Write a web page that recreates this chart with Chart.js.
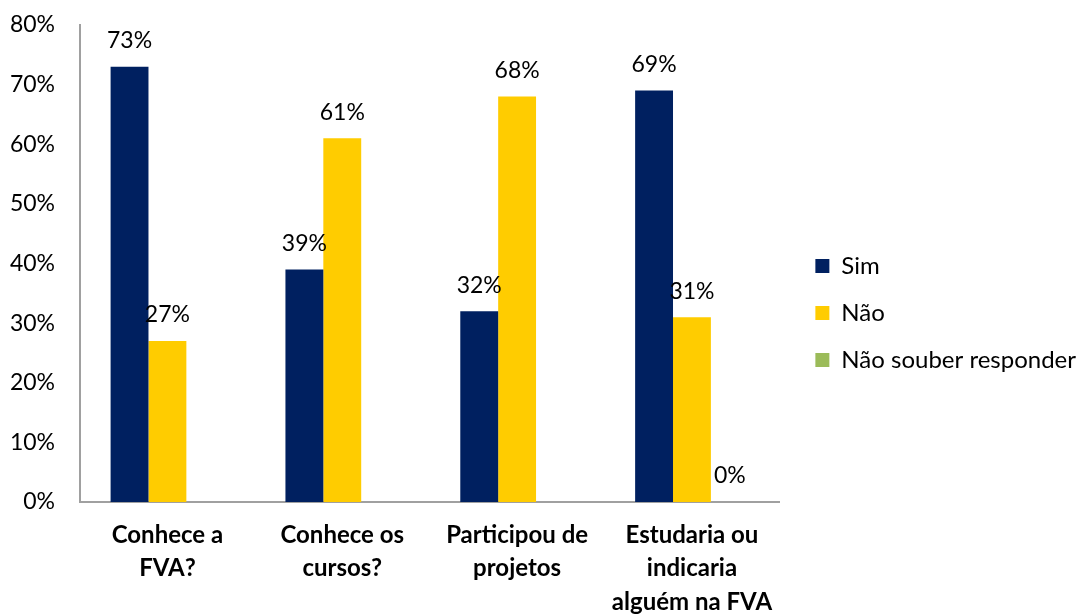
<!DOCTYPE html>
<html>
    <head>
        <meta charset="utf-8">
        <title>Conhecimento da FVA</title>
        <script src="https://cdn.jsdelivr.net/npm/chart.js@4.4.0/dist/chart.umd.min.js"></script>
        <style>
            body { margin: 0; background: #fff; }
            #wrap { width: 1086px; height: 614px; }
        </style>
    </head>
    <body>
        <div id="wrap"><canvas id="chart" width="1086" height="614"></canvas></div>
        <script>
// categories (multi-line labels) and the three series, in percent
const categories = [
    ['Conhece a', 'FVA?'],
    ['Conhece os', 'cursos?'],
    ['Participou de', 'projetos'],
    ['Estudaria ou', 'indicaria', 'alguém na FVA']
];
const sim = [73, 39, 32, 69];
const nao = [27, 61, 68, 31];
const naoSouber = [null, null, null, 0];
const yTicks = [0, 10, 20, 30, 40, 50, 60, 70, 80];

const font = 'Lato, "Liberation Sans", sans-serif';

// writes the value over each bar, like the excel data labels
const valueLabels = {
    id: 'valueLabels',
    afterDatasetsDraw(chart) {
        const ctx = chart.ctx;
        ctx.save();
        ctx.font = '23px ' + font;
        ctx.fillStyle = '#000';
        ctx.textAlign = 'center';
        ctx.textBaseline = 'middle';
        chart.data.datasets.forEach((ds, i) => {
            const meta = chart.getDatasetMeta(i);
            meta.data.forEach((bar, j) => {
                const v = ds.data[j];
                if (v === null || v === undefined) return;
                ctx.fillText(v + '%', bar.x, bar.y - 26);
            });
        });
        ctx.restore();
    }
};

const ctx = document.getElementById('chart').getContext('2d');
new Chart(ctx, {
    type: 'bar',
    data: {
        labels: categories,
        datasets: [
            { label: 'Sim', data: sim, backgroundColor: '#002060' },
            { label: 'Não', data: nao, backgroundColor: '#FFCC00' },
            { label: 'Não souber responder', data: naoSouber, backgroundColor: '#9BBB59' }
        ]
    },
    options: {
        responsive: false,
        animation: false,
        layout: { padding: { top: 0, right: 0, left: 0, bottom: 0 } },
        datasets: { bar: { categoryPercentage: 0.65, barPercentage: 1.0 } },
        plugins: {
            tooltip: { enabled: false },
            legend: {
                position: 'right',
                maxWidth: 400,
                // blank title only pushes the items a few px down
                title: { display: true, text: ' ', padding: 0, font: { size: 10 } },
                labels: {
                    font: { family: font, size: 24 },
                    color: '#000',
                    boxWidth: 14,
                    boxHeight: 14,
                    padding: 23
                }
            }
        },
        scales: {
            x: {
                grid: { display: false, drawTicks: false },
                border: { color: '#A0A0A0', width: 2 },
                ticks: {
                    color: '#000',
                    font: { family: font, size: 24, weight: 'bold', lineHeight: 1.38 },
                    padding: 17,
                    maxRotation: 0,
                    autoSkip: false
                },
                afterFit(scale) { scale.height = 112; }
            },
            y: {
                min: 0,
                max: 80,
                afterBuildTicks(scale) { scale.ticks = yTicks.map(v => ({ value: v })); },
                grid: { display: false, drawTicks: false },
                border: { color: '#A0A0A0', width: 2 },
                ticks: {
                    color: '#000',
                    font: { family: font, size: 23 },
                    padding: 25,
                    callback: v => v + '%'
                },
                afterFit(scale) {
                    scale.width = 80;
                    scale.paddingTop = 25;
                }
            },
            // empty axis, only to leave a gap between the bars and the legend
            gap: {
                position: 'right',
                display: true,
                grid: { display: false, drawTicks: false },
                border: { display: false },
                ticks: { display: false },
                afterFit(scale) { scale.width = 13; }
            }
        }
    },
    plugins: [valueLabels]
});
        </script>
    </body>
</html>
